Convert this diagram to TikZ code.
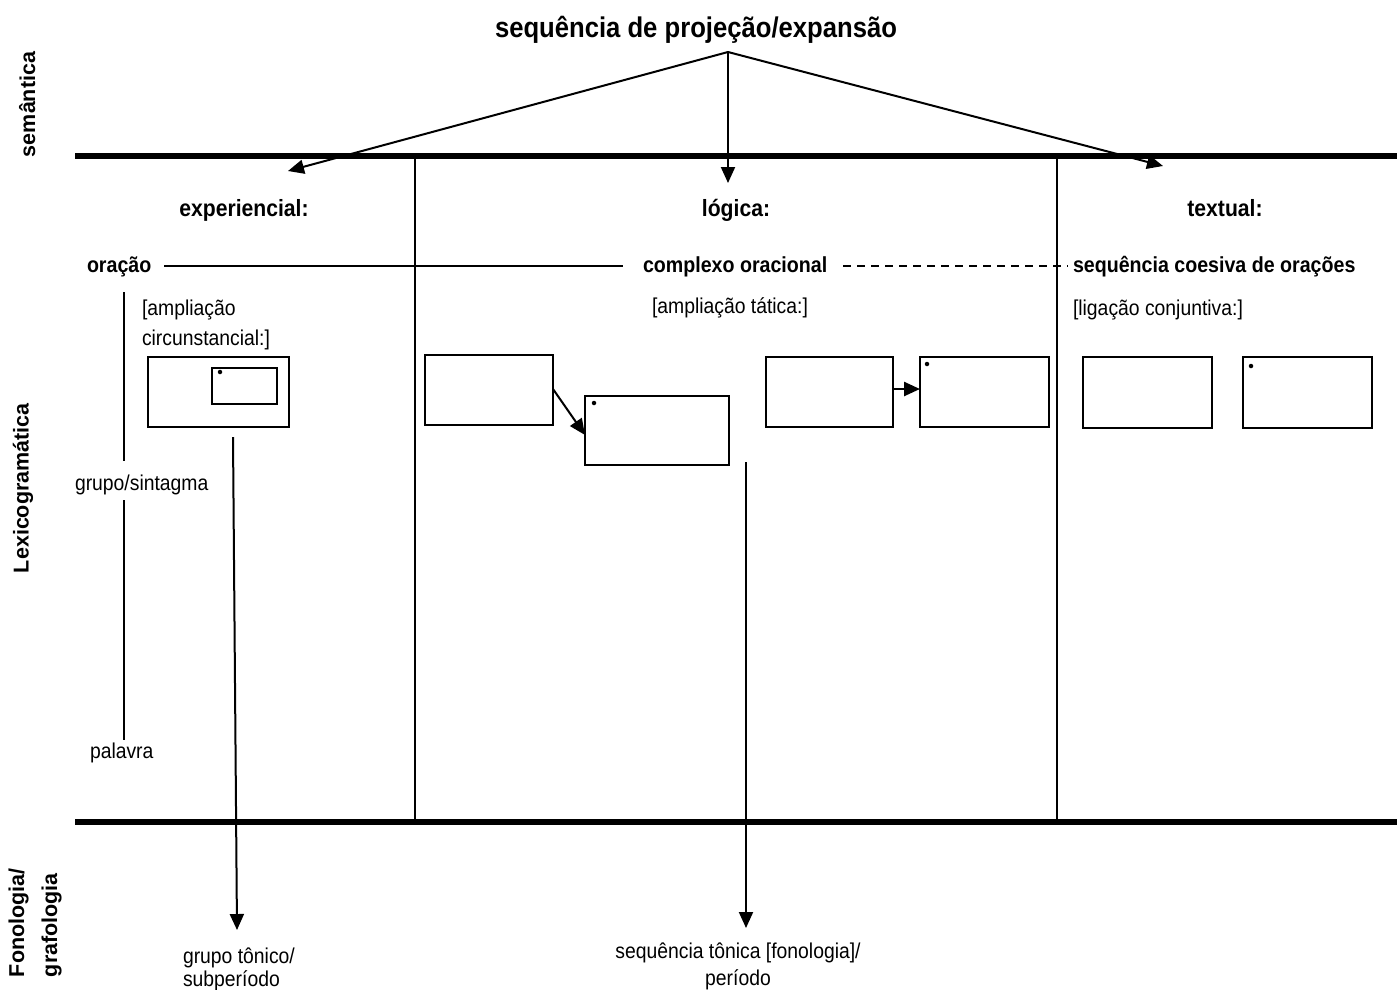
\documentclass[tikz,border=0pt]{standalone}
\usepackage{fontspec}
\setmainfont{Liberation Sans}
\newfontfamily\narrowsans[FakeStretch=0.9]{Liberation Sans}
\usetikzlibrary{arrows.meta}
\begin{document}
\begin{tikzpicture}[x=1pt,y=-1pt,
  every node/.style={inner sep=0pt, outer sep=0pt},
  titlefont/.style={font=\narrowsans\fontsize{28.5}{32}\selectfont\bfseries},
  hdr/.style={font=\narrowsans\fontsize{23.5}{27}\selectfont\bfseries},
  sidelbl/.style={font=\fontsize{21.5}{25}\selectfont\bfseries, rotate=90, anchor=base west},
  rowlbl/.style={font=\narrowsans\fontsize{21.8}{25}\selectfont\bfseries, anchor=base west, text height=15pt, text depth=3pt},
  body/.style={font=\narrowsans\fontsize{21.5}{25}\selectfont},
  stratum/.style={line width=6pt},
  divider/.style={line width=2pt},
  thinline/.style={line width=1.5pt},
  clausebox/.style={draw, line width=1.6pt, minimum width=#1, minimum height=70pt},
  mark dot/.style={circle, fill, minimum size=4.5pt},
  arr/.style={line width=2pt, -{Triangle[length=16pt,width=14pt]}},
]
\useasboundingbox (0,0) rectangle (1397,989);

% strata boundaries and column dividers
\coordinate (semL) at (75,156);   \coordinate (semR) at (1397,156);
\coordinate (fonL) at (75,822);   \coordinate (fonR) at (1397,822);
\draw[stratum] (semL) -- (semR);
\draw[stratum] (fonL) -- (fonR);
\coordinate (d1t) at (415,156); \coordinate (d1b) at (415,822);
\coordinate (d2t) at (1057,156); \coordinate (d2b) at (1057,822);
\draw[divider] (d1t) -- (d1b);
\draw[divider] (d2t) -- (d2b);

% stratum labels
\node[sidelbl] (semantica) at (35,157) {semântica};
\node[sidelbl] (lexgram) at (28.5,573) {Lexicogramática};
\node[sidelbl] (fonol) at (24,977) {Fonologia/};
\node[sidelbl] (grafol) at (57,977) {grafologia};

% title and metafunction headers
\node[titlefont, anchor=base] (title) at (696,37) {sequência de projeção/expansão};
\node[hdr, anchor=base] (exp) at (244,216) {experiencial:};
\node[hdr, anchor=base] (log) at (736,216) {lógica:};
\node[hdr, anchor=base] (txt) at (1225,216) {textual:};

\coordinate (apex) at (728,52);
\coordinate (tipexp) at (288,171);
\coordinate (tiplog) at (728,183);
\coordinate (tiptxt) at (1163,166);
\draw[arr] (apex) -- (tipexp);
\draw[arr] (apex) -- (tiplog);
\draw[arr] (apex) -- (tiptxt);

% rank labels
\node[rowlbl] (oracao) at (87,272) {oração};
\node[rowlbl] (complexo) at (643,272) {complexo oracional};
\node[rowlbl] (seqcoes) at (1073,272) {sequência coesiva de orações};
\draw[thinline] ([xshift=13pt]oracao.east) -- ([xshift=-20pt]complexo.west);
\draw[thinline, dash pattern=on 8pt off 6pt] ([xshift=16pt]complexo.east) -- ([xshift=-5pt]seqcoes.west);

\node[body, anchor=base west] (grupo) at (75,490) {grupo/sintagma};
\node[body, anchor=base west] (palavra) at (90,758) {palavra};
\coordinate (rk1) at (124,292); \coordinate (rk2) at (124,461);
\coordinate (rk3) at (124,500); \coordinate (rk4) at (124,740);
\draw[thinline] (rk1) -- (rk2);
\draw[thinline] (rk3) -- (rk4);

% expansion types
\node[body, anchor=base west] (amp1) at (142,315) {[ampliação};
\node[body, anchor=base west] (amp2) at (142,345) {circunstancial:]};
\node[body, anchor=base west] (ampt) at (652,313) {[ampliação tática:]};
\node[body, anchor=base west] (lig) at (1073,315) {[ligação conjuntiva:]};

% experiential: clause with embedded circumstance
\node[clausebox=141pt] (expbox) at (218.5,392) {};
\node[draw, line width=1.3pt, minimum width=65pt, minimum height=36pt] (inbox) at (244.5,386) {};
\node[mark dot] (indot) at (220,372) {};

% logical: hypotactic and paratactic clause complexes
\node[clausebox=128pt] (boxA) at (489,390) {};
\node[clausebox=144pt, minimum height=69pt] (boxB) at (657,430.5) {};
\node[mark dot] (dotB) at (594,403) {};
\node[clausebox=127pt] (boxC) at (829.5,392) {};
\node[clausebox=129pt] (boxD) at (984.5,392) {};
\node[mark dot] (dotD) at (927,364) {};
\draw[arr] ([yshift=1pt]boxA.east) -- ([yshift=-4.5pt]boxB.west);
\draw[arr, line width=2.5pt] ([yshift=3pt]boxC.east) -- ([yshift=3pt]boxD.west);

% textual: cohesive sequence
\node[clausebox=129pt, minimum height=71pt] (boxE) at (1147.5,392.5) {};
\node[clausebox=129pt, minimum height=71pt] (boxF) at (1307.5,392.5) {};
\node[mark dot] (dotF) at (1251,366) {};

% realisation in phonology / graphology
\node[body, anchor=base west] (gt1) at (183,963) {grupo tônico/};
\node[body, anchor=base west] (gt2) at (183,986) {subperíodo};
\node[body, anchor=base] (st1) at (738,958) {sequência tônica [fonologia]/};
\node[body, anchor=base] (st2) at (738,985) {período};
\coordinate (lfrom) at (233,437); \coordinate (lto) at (237,930);
\coordinate (mfrom) at (746,462); \coordinate (mto) at (746,928);
\draw[arr] (lfrom) -- (lto);
\draw[arr] (mfrom) -- (mto);
\end{tikzpicture}
\end{document}
